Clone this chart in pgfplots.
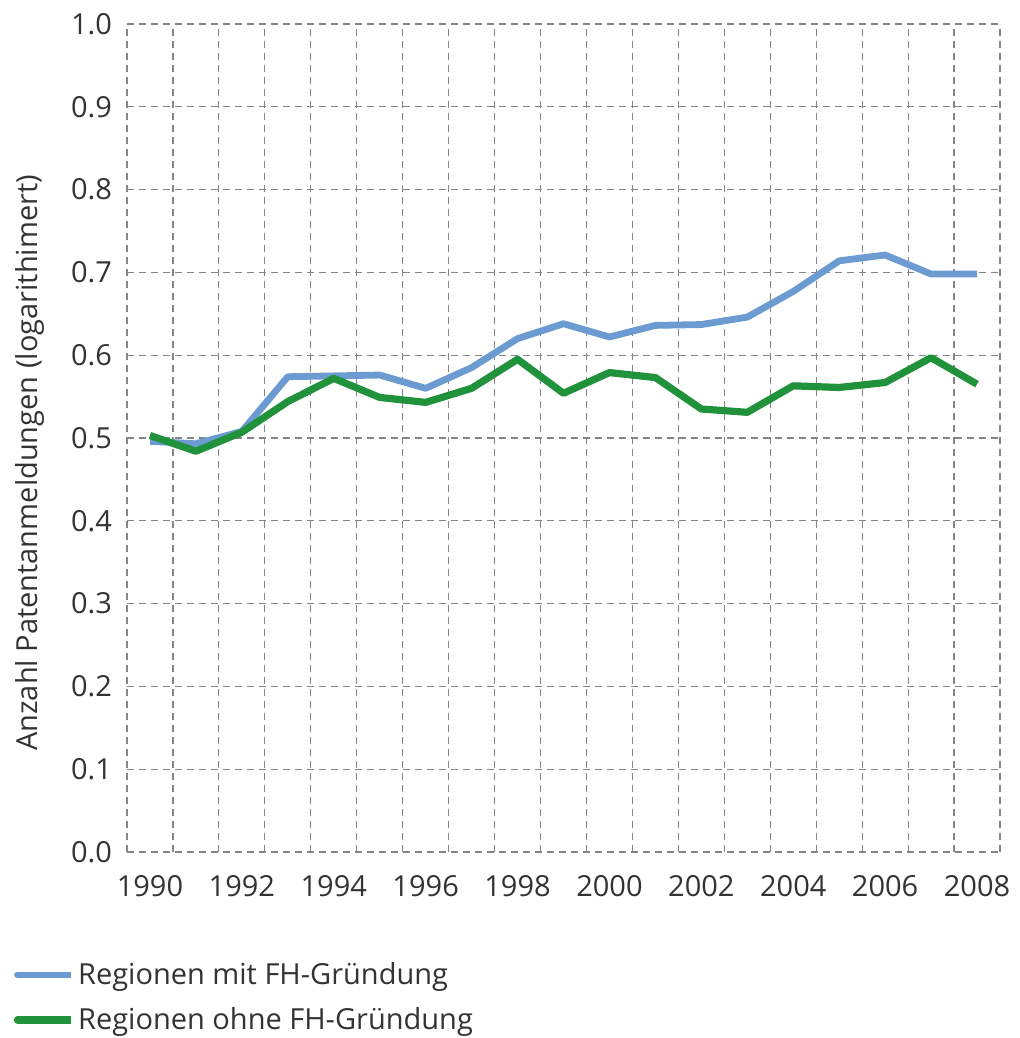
\documentclass[border=0pt]{standalone}
\usepackage{fontspec}
\setmainfont{Open Sans}
\usepackage{pgfplots}
\pgfplotsset{compat=1.18}
\definecolor{txt}{HTML}{333333}
\definecolor{gridc}{HTML}{858585}
\definecolor{cblue}{HTML}{6C9BD2}
\definecolor{cgreen}{HTML}{21923C}
\begin{document}
\begin{tikzpicture}
\useasboundingbox (0,0) rectangle (510pt,519pt);
\begin{axis}[
  at={(63.5pt,93pt)}, anchor=south west,
  scale only axis, width=436.5pt, height=414pt,
  xmin=1989.5, xmax=2008.5, ymin=0, ymax=1,
  axis line style={draw=none},
  xtick={1990,1992,...,2008},
  xticklabels={1990,1992,1994,1996,1998,2000,2002,2004,2006,2008},
  minor xtick={1989.5,1990.5,...,2008.5},
  ytick={0,0.1,...,1.0},
  yticklabels={0.0,0.1,0.2,0.3,0.4,0.5,0.6,0.7,0.8,0.9,1.0},
  major tick length=0pt, minor tick length=0pt,
  xmajorgrids=false, xminorgrids=true, ymajorgrids=true,
  grid style={gridc, line width=0.6pt, dash pattern=on 3.5pt off 2.5pt},
  minor grid style={gridc, line width=0.6pt, dash pattern=on 3.5pt off 2.5pt},
  tick label style={font=\fontsize{14.5}{17}\selectfont, text=txt},
  xticklabel style={yshift=-8pt},
  yticklabel style={xshift=-4pt},
  ylabel={Anzahl Patentanmeldungen (logarithimert)},
  ylabel style={font=\fontsize{14.5}{17}\selectfont, text=txt, at={(axis description cs:-0.111,0.47)}, anchor=center},
  legend style={at={(axis description cs:-0.130,-0.128)}, anchor=north west, draw=none, fill=none,
    font=\fontsize{14.5}{17}\selectfont, text=txt, cells={anchor=west}, row sep=6pt, inner sep=0pt},
  legend image code/.code={\draw[#1, line cap=round] (0pt,0pt) -- (23pt,0pt); \path (0pt,0pt) -- (26.5pt,0pt);},
  every axis plot/.append style={line join=round},
]
\addplot[cblue, line width=3.4pt] coordinates {
(1990,0.496) (1991,0.493) (1992,0.508) (1993,0.574) (1994,0.575) (1995,0.576)
(1996,0.560) (1997,0.585) (1998,0.620) (1999,0.638) (2000,0.622) (2001,0.636)
(2002,0.637) (2003,0.646) (2004,0.677) (2005,0.714) (2006,0.721) (2007,0.698) (2008,0.698)};
\addlegendentry{Regionen mit FH-Gründung}
\addplot[cgreen, line width=3.6pt] coordinates {
(1990,0.503) (1991,0.484) (1992,0.507) (1993,0.544) (1994,0.572) (1995,0.549)
(1996,0.543) (1997,0.560) (1998,0.595) (1999,0.554) (2000,0.579) (2001,0.573)
(2002,0.535) (2003,0.531) (2004,0.563) (2005,0.561) (2006,0.567) (2007,0.597) (2008,0.565)};
\addlegendentry{Regionen ohne FH-Gründung}
\end{axis}
\end{tikzpicture}
\end{document}
